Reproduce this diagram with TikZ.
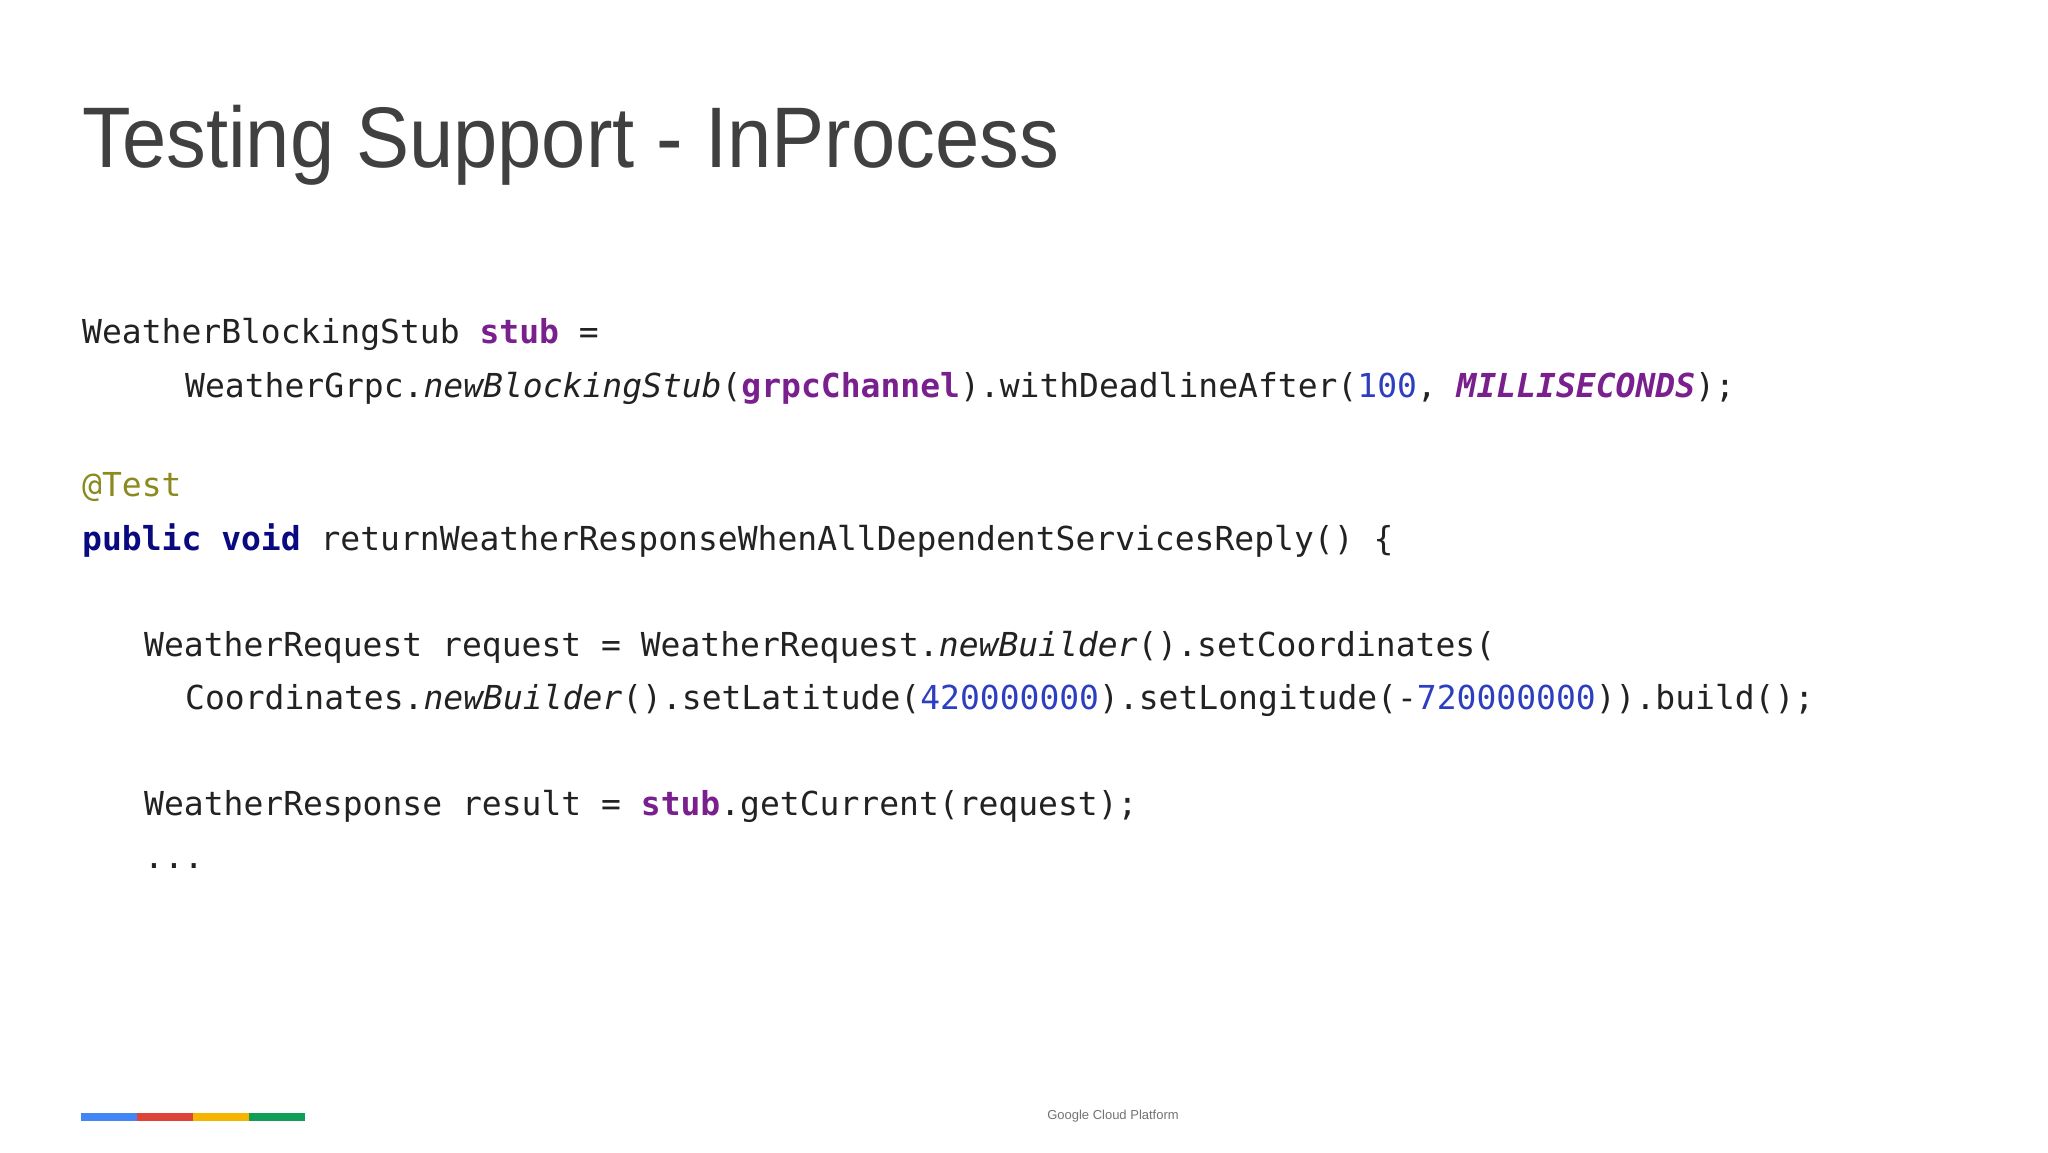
\documentclass[tikz,border=0pt]{standalone}
\usepackage{fontspec}
\setmainfont{Liberation Sans}
\newfontfamily\titlefont[FakeStretch=0.925]{Liberation Sans}
\setmonofont{DejaVu Sans Mono}
\definecolor{kw}{HTML}{7A1F8E}
\definecolor{num}{HTML}{2D3FC0}
\definecolor{ann}{HTML}{8A8A20}
\definecolor{nv}{HTML}{0A0A80}
\definecolor{txt}{HTML}{222222}
\newcommand{\K}[1]{\textbf{\color{kw}#1}}
\newcommand{\N}[1]{{\color{num}#1}}
\newcommand{\I}[1]{\textit{#1}}
\begin{document}
\begin{tikzpicture}[x=1pt,y=-1pt,
  code/.style={anchor=base west,inner sep=0pt,font=\ttfamily\fontsize{33}{33}\selectfont,text=txt}]
\useasboundingbox[fill=white] (0,0) rectangle (2048,1152);
\node[anchor=base west,inner sep=0pt,font=\titlefont\fontsize{86}{86}\selectfont,text=black!75] (title) at (82,167) {Testing Support - InProcess};
\node[code] (l1) at (82,343) {WeatherBlockingStub \K{stub} =};
\node[code] (l2) at (185,397) {WeatherGrpc.\I{newBlockingStub}(\K{grpcChannel}).withDeadlineAfter(\N{100}, \textbf{\textit{\color{kw}MILLISECONDS}});};
\node[code] (l3) at (82,496) {{\color{ann}@Test}};
\node[code] (l4) at (82,550) {\textbf{\color{nv}public void} returnWeatherResponseWhenAllDependentServicesReply() \{};
\node[code] (l5) at (144,656) {WeatherRequest request = WeatherRequest.\I{newBuilder}().setCoordinates(};
\node[code] (l6) at (185,709) {Coordinates.\I{newBuilder}().setLatitude(\N{420000000}).setLongitude(-\N{720000000})).build();};
\node[code] (l7) at (144,815) {WeatherResponse result = \K{stub}.getCurrent(request);};
\node[code] (l8) at (144,868) {...};
\fill[color={rgb,255:red,66;green,133;blue,244}] (81,1113) rectangle (137,1121);
\fill[color={rgb,255:red,219;green,68;blue,55}] (137,1113) rectangle (193,1121);
\fill[color={rgb,255:red,244;green,180;blue,0}] (193,1113) rectangle (249,1121);
\fill[color={rgb,255:red,15;green,157;blue,88}] (249,1113) rectangle (305,1121);
\node[inner sep=0pt,font=\fontsize{13}{13}\selectfont,text=black!55] (foot) at (1113,1116) {Google Cloud Platform};
\end{tikzpicture}
\end{document}
